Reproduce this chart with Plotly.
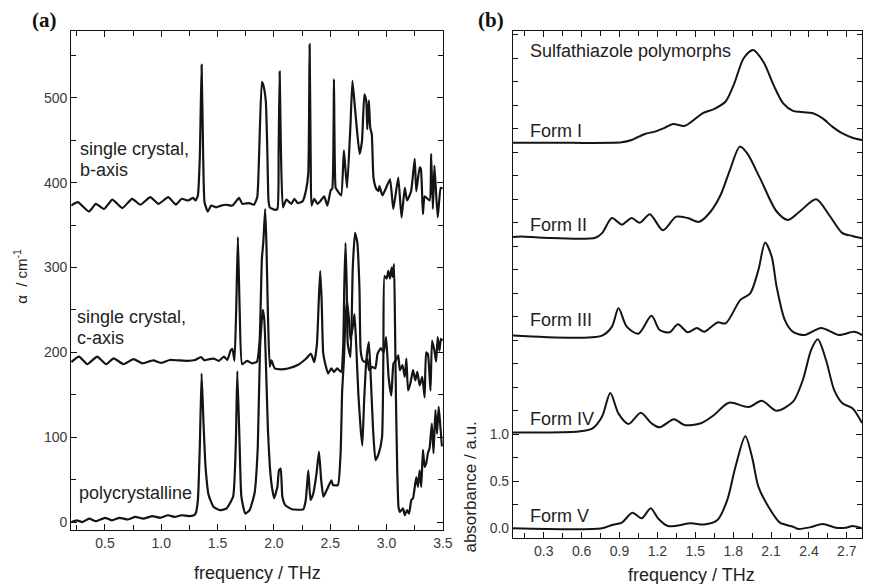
import plotly.graph_objects as go

# ---------------- Panel (a): absorption coefficient, alpha / cm^-1 ----------------
b_axis_f = [0.2, 0.259, 0.358, 0.419, 0.492, 0.566, 0.654, 0.741, 0.814, 0.902, 0.975, 1.062, 1.13, 1.18, 1.238,
            1.282, 1.305, 1.325, 1.342, 1.358, 1.372, 1.384, 1.413, 1.443, 1.487, 1.531, 1.575, 1.632, 1.691, 1.72,
            1.779, 1.823, 1.852, 1.87, 1.893, 1.908, 1.928, 1.941, 1.952, 1.963, 2.007, 2.031, 2.042, 2.051, 2.062,
            2.08, 2.11, 2.154, 2.182, 2.211, 2.255, 2.285, 2.305, 2.317, 2.327, 2.334, 2.358, 2.387, 2.417, 2.446,
            2.475, 2.504, 2.518, 2.533, 2.548, 2.562, 2.597, 2.621, 2.636, 2.65, 2.68, 2.697, 2.715, 2.738, 2.761,
            2.782, 2.803, 2.82, 2.829, 2.843, 2.855, 2.869, 2.884, 2.908, 2.928, 2.937, 2.963, 2.99, 3.031, 3.06,
            3.104, 3.133, 3.162, 3.182, 3.218, 3.25, 3.264, 3.294, 3.305, 3.323, 3.338, 3.382, 3.396, 3.411, 3.425,
            3.454, 3.481, 3.498]
b_axis_v = [373, 377, 366, 375, 369, 380, 370, 381, 374, 383, 375, 383, 374, 381, 379,
            382, 379, 385, 430, 539, 430, 377, 366, 373, 371, 373, 374, 373, 382, 375,
            376, 374, 383, 440, 519, 514, 496, 440, 379, 371, 368, 369, 440, 531, 440,
            371, 380, 375, 381, 376, 378, 391, 411, 563, 420, 373, 381, 375, 379, 384,
            373, 391, 393, 522, 394, 391, 385, 438, 414, 394, 469, 520, 495, 461, 434,
            449, 504, 496, 463, 497, 465, 457, 406, 393, 390, 396, 385, 392, 404, 369,
            406, 359, 394, 379, 390, 428, 390, 418, 416, 363, 384, 379, 434, 369, 420,
            359, 394, 393]

c_axis_f = [0.2, 0.27, 0.343, 0.431, 0.51, 0.577, 0.665, 0.753, 0.832, 0.928, 1.001, 1.075, 1.147, 1.235, 1.3,
            1.352, 1.382, 1.43, 1.469, 1.51, 1.557, 1.586, 1.615, 1.632, 1.65, 1.665, 1.68, 1.696, 1.718, 1.761,
            1.805, 1.849, 1.873, 1.893, 1.906, 1.922, 1.933, 1.946, 1.963, 1.978, 2.007, 2.066, 2.124, 2.211, 2.285,
            2.329, 2.358, 2.382, 2.398, 2.411, 2.424, 2.437, 2.452, 2.481, 2.51, 2.533, 2.562, 2.597, 2.615, 2.625,
            2.636, 2.646, 2.656, 2.68, 2.70, 2.72, 2.74, 2.76, 2.77, 2.79, 2.815, 2.83, 2.845, 2.872, 2.9,
            2.92, 2.95, 2.975, 2.996, 3.018, 3.042, 3.062, 3.083, 3.104, 3.118, 3.141, 3.162, 3.176, 3.191, 3.211,
            3.235, 3.255, 3.273, 3.294, 3.317, 3.338, 3.352, 3.367, 3.39, 3.404, 3.425, 3.44, 3.454, 3.469, 3.483,
            3.498]
c_axis_v = [188.6, 195, 186, 195, 186, 193, 186, 192, 187, 190.6, 187.5, 191, 190.6, 190, 191,
            194.5, 190.6, 192, 192.5, 190, 195, 191, 202, 204, 190, 250, 336, 250, 186, 190,
            187, 189, 214, 310, 330, 369, 330, 250, 183, 190.6, 181, 180, 181, 185, 192.5,
            198.4, 188.6, 210, 260, 296, 260, 200, 188.6, 175, 181, 177, 181, 177, 206, 280,
            329, 280, 210, 194.5, 300, 341, 330, 273, 202, 190, 188.6, 192.5, 179, 183, 181,
            198.4, 205, 200, 218, 171, 149, 187, 190.6, 196.5, 179, 185, 171, 192.5, 155, 163,
            179, 167, 177, 161, 171, 147, 200, 198, 155, 214, 202, 189, 218, 202, 216,
            214]

poly_f = [0.2, 0.25, 0.3, 0.36, 0.42, 0.5, 0.56, 0.63, 0.7, 0.77, 0.84, 0.92, 0.99, 1.06, 1.12,
          1.18, 1.24, 1.29, 1.305, 1.325, 1.342, 1.358, 1.375, 1.393, 1.42, 1.463, 1.52, 1.58, 1.638, 1.661,
          1.675, 1.696, 1.711, 1.746, 1.784, 1.828, 1.857, 1.877, 1.901, 1.915, 1.929, 1.947, 1.964, 1.982, 2.002,
          2.031, 2.045, 2.06, 2.075, 2.1, 2.16, 2.26, 2.283, 2.305, 2.325, 2.35, 2.378, 2.4, 2.42, 2.44,
          2.47, 2.51, 2.525, 2.568, 2.592, 2.606, 2.621, 2.636, 2.65, 2.665, 2.68, 2.70, 2.715, 2.73, 2.75,
          2.77, 2.785, 2.80, 2.82, 2.843, 2.86, 2.88, 2.902, 2.931, 2.96, 2.972, 2.982, 3.001, 3.016, 3.031,
          3.045, 3.054, 3.066, 3.075, 3.083, 3.095, 3.106, 3.118, 3.147, 3.162, 3.182, 3.2, 3.22, 3.235, 3.264,
          3.279, 3.294, 3.308, 3.323, 3.338, 3.352, 3.367, 3.382, 3.402, 3.417, 3.434, 3.448, 3.463, 3.478, 3.492]
poly_v = [0, 2, 0, 4, 1, 5, 2, 5, 3, 6, 4, 7, 5, 8, 6,
          8, 7, 8, 10, 26, 89, 175, 116, 65, 32, 18, 14, 16, 30, 89,
          178, 89, 30, 10, 14, 34, 89, 206, 250, 238, 187, 108, 65, 41.5, 28,
          41.5, 61, 63, 30, 20, 15, 15, 26, 61, 26, 34, 57, 83, 49, 30,
          38, 49, 43.5, 43.5, 81, 155, 190, 241, 261, 240, 215, 230, 245, 210, 150,
          110, 90, 140, 190, 212, 170, 110, 73, 81, 100, 200, 290, 287, 296, 287,
          300, 289, 304, 234, 150, 60, 18, 12, 16, 8, 14, 10, 26, 28, 53,
          41.5, 61, 41.5, 85, 65, 69, 81, 87, 116, 81, 132, 104, 136, 112, 89]

# ---------------- Panel (b): absorbance of sulfathiazole polymorphs ----------------
form_names = ["Form I", "Form II", "Form III", "Form IV", "Form V"]
form_offsets = [4.10, 3.09, 2.05, 1.02, 0.0]

form1_f = [0.057, 0.5, 0.918, 0.996, 1.10, 1.179, 1.257, 1.323, 1.413, 1.466, 1.557, 1.648, 1.74, 1.805,
           1.883, 1.957, 2.04, 2.118, 2.196, 2.274, 2.327, 2.431, 2.509, 2.587, 2.665, 2.744, 2.82]
form1_a = [0.0, 0.0, 0.006, 0.03, 0.095, 0.12, 0.16, 0.20, 0.18, 0.22, 0.315, 0.36, 0.44, 0.62,
           0.90, 0.988, 0.86, 0.62, 0.42, 0.34, 0.33, 0.315, 0.26, 0.17, 0.10, 0.055, 0.03]

form2_f = [0.057, 0.12, 0.3, 0.709, 0.762, 0.84, 0.918, 0.996, 1.061, 1.14, 1.244, 1.349, 1.44, 1.531,
           1.622, 1.70, 1.779, 1.852, 1.91, 2.014, 2.144, 2.235, 2.327, 2.457, 2.561, 2.665, 2.744, 2.82]
form2_a = [0.01, 0.015, 0.0, 0.0, 0.05, 0.21, 0.14, 0.21, 0.16, 0.25, 0.08, 0.225, 0.21, 0.17,
           0.28, 0.455, 0.74, 0.97, 0.90, 0.63, 0.28, 0.19, 0.28, 0.41, 0.24, 0.05, 0.02, -0.005]

form3_f = [0.057, 0.762, 0.84, 0.892, 0.957, 1.049, 1.153, 1.218, 1.296, 1.362, 1.44, 1.513, 1.57, 1.675,
           1.74, 1.857, 1.935, 2.0, 2.053, 2.105, 2.144, 2.209, 2.274, 2.366, 2.496, 2.639, 2.757, 2.82]
form3_a = [0.0, 0.0, 0.095, 0.29, 0.095, 0.02, 0.21, 0.06, 0.035, 0.12, 0.035, 0.08, 0.04, 0.14,
           0.13, 0.38, 0.45, 0.70, 0.99, 0.84, 0.52, 0.165, 0.04, 0.006, 0.08, 0.006, 0.04, 0.006]

form4_f = [0.057, 0.579, 0.683, 0.762, 0.827, 0.892, 0.971, 1.069, 1.153, 1.218, 1.331, 1.413, 1.544, 1.648,
           1.766, 1.922, 2.027, 2.144, 2.274, 2.352, 2.418, 2.47, 2.535, 2.60, 2.665, 2.744, 2.82]
form4_a = [0.0, 0.01, 0.04, 0.17, 0.42, 0.20, 0.09, 0.21, 0.097, 0.054, 0.14, 0.08, 0.097, 0.185,
           0.316, 0.27, 0.337, 0.23, 0.327, 0.56, 0.88, 0.99, 0.77, 0.45, 0.31, 0.257, 0.10]

form5_f = [0.057, 0.762, 0.84, 0.918, 1.002, 1.075, 1.147, 1.205, 1.284, 1.466, 1.57, 1.675, 1.753, 1.818,
           1.896, 1.949, 2.0, 2.079, 2.17, 2.274, 2.313, 2.405, 2.509, 2.614, 2.692, 2.744, 2.82]
form5_a = [0.0, 0.0, 0.035, 0.06, 0.166, 0.106, 0.213, 0.106, 0.024, 0.053, 0.04, 0.088, 0.30, 0.655,
           0.98, 0.76, 0.44, 0.23, 0.06, 0.017, -0.007, 0.01, 0.046, 0.006, 0.006, 0.024, 0.0]

forms_f = [form1_f, form2_f, form3_f, form4_f, form5_f]
forms_a = [form1_a, form2_a, form3_a, form4_a, form5_a]

# ticks
a_xticks = [0.5, 1.0, 1.5, 2.0, 2.5, 3.0, 3.5]
a_xlabels = ["0.5", "1.0", "1.5", "2.0", "2.5", "3.0", "3.5"]
a_yticks = [0, 100, 200, 300, 400, 500]
b_xticks = [0.3, 0.6, 0.9, 1.2, 1.5, 1.8, 2.1, 2.4, 2.7]
b_xlabels = ["0.3", "0.6", "0.9", "1.2", "1.5", "1.8", "2.1", "2.4", "2.7"]
b_yticks = [0.0, 0.5, 1.0]
b_ylabels = ["0.0", "0.5", "1.0"]

LINE = "#141414"
TXT = "#222222"
SANS = "Liberation Sans, Arial, sans-serif"

fig = go.Figure()
for f, v in [(b_axis_f, b_axis_v), (c_axis_f, c_axis_v), (poly_f, poly_v)]:
    fig.add_trace(go.Scatter(x=f, y=v, mode="lines",
                             line=dict(color=LINE, width=2.2, shape="spline", smoothing=0.45),
                             xaxis="x", yaxis="y", showlegend=False, hoverinfo="skip"))

for f, a, off in zip(forms_f, forms_a, form_offsets):
    fig.add_trace(go.Scatter(x=f, y=[off + val for val in a], mode="lines",
                             line=dict(color=LINE, width=2.0, shape="spline", smoothing=0.8),
                             xaxis="x2", yaxis="y2", showlegend=False, hoverinfo="skip"))

axis_common = dict(showline=True, linecolor="#111", linewidth=1.2, mirror="ticks", ticks="inside",
                   showgrid=False, zeroline=False, tickcolor="#111",
                   tickfont=dict(family=SANS, size=14, color="#3a3a3a"))

fig.update_layout(
    width=873, height=584, margin=dict(l=0, r=0, t=0, b=0),
    paper_bgcolor="white", plot_bgcolor="white",
    xaxis=dict(domain=[72 / 873, 448 / 873], range=[0.2, 3.5], tickvals=a_xticks, ticktext=a_xlabels, ticklen=6,
               minor=dict(dtick=0.25, tick0=0.0, ticks="inside", ticklen=5, tickcolor="#111"),
               anchor="y", **axis_common),
    yaxis=dict(domain=[54 / 584, 553 / 584], range=[-9.4, 578.8], tickvals=a_yticks, ticklen=6,
               minor=dict(dtick=50, tick0=0, ticks="inside", ticklen=5, tickcolor="#111"),
               anchor="x", **axis_common),
    xaxis2=dict(domain=[519 / 873, 872 / 873], range=[0.057, 2.82], tickvals=b_xticks, ticktext=b_xlabels,
                ticklen=6, minor=dict(dtick=0.15, tick0=0.0, ticks="inside", ticklen=5, tickcolor="#111"),
                anchor="y2", **axis_common),
    yaxis2=dict(domain=[46 / 584, 553 / 584], range=[-0.103, 5.29], tickvals=b_yticks, ticktext=b_ylabels,
                ticklen=6, minor=dict(dtick=0.25, tick0=0.0, ticks="inside", ticklen=5, tickcolor="#111"),
                anchor="x2", **axis_common),
)

ann = []
def txt(x, y, s, size=18, xanchor="left", family=SANS, angle=0, color=TXT):
    ann.append(dict(x=x / 873, y=1 - y / 584, xref="paper", yref="paper", text=s, showarrow=False,
                    xanchor=xanchor, yanchor="middle", textangle=angle,
                    font=dict(family=family, size=size, color=color)))

txt(45, 20, "<b>(a)</b>", size=21, xanchor="center", family="Liberation Serif, Times New Roman, serif", color="#111")
txt(497, 20, "<b>(b)</b>", size=21, xanchor="center", family="Liberation Serif, Times New Roman, serif", color="#111")
txt(79, 149, "single crystal,")
txt(79, 170, "b-axis")
txt(76, 317, "single crystal,")
txt(76, 338, "c-axis")
txt(78, 493, "polycrystalline")
txt(534, 51, "Sulfathiazole polymorphs")
form_label_y = [131, 225, 320, 419, 516]
for name, yy in zip(form_names, form_label_y):
    txt(534, yy, name)
txt(260, 573, "frequency / THz", xanchor="center")
txt(700, 575, "frequency / THz", xanchor="center")
txt(20, 276, "α  / cm<sup>-1</sup>", size=15, xanchor="center", angle=-90)
txt(476, 487, "absorbance / a.u.", size=17, xanchor="center", angle=-90)
fig.update_layout(annotations=ann)

fig.write_html("out.html")
